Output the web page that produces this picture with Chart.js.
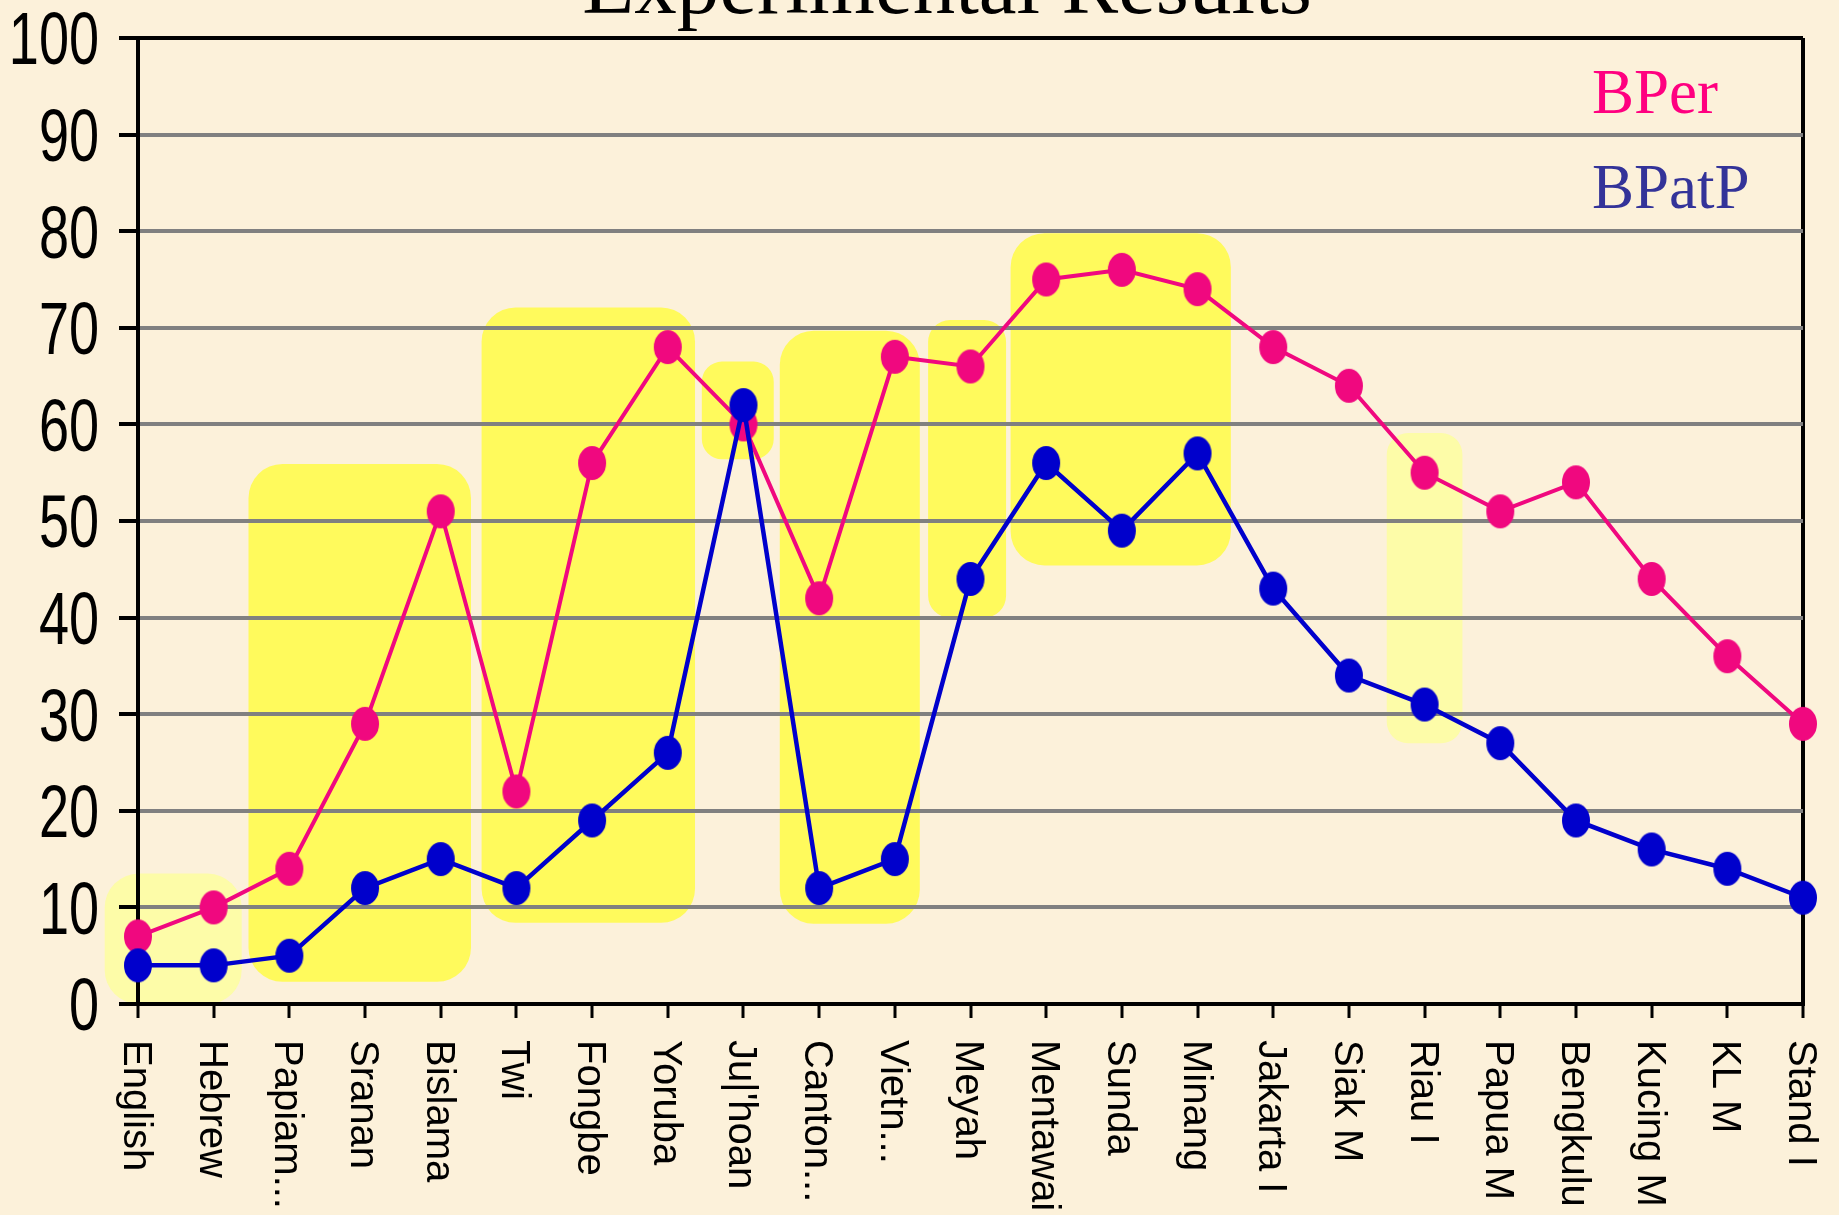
<!DOCTYPE html>
<html>
<head>
<meta charset="utf-8">
<title>Experimental Results</title>
<script src="https://cdn.jsdelivr.net/npm/chart.js@4.4.1/dist/chart.umd.min.js"></script>
<style>
  html, body { margin: 0; padding: 0; background: #FCF1DA; overflow: hidden; }
  canvas { display: block; }
</style>
</head>
<body>
<canvas id="chart" width="1839" height="1215"></canvas>
<script>
// ---- data ----
const languages = ['English', 'Hebrew', 'Papiam...', 'Sranan', 'Bislama', 'Twi', 'Fongbe', 'Yoruba',
  "Ju|'hoan", 'Canton...', 'Vietn...', 'Meyah', 'Mentawai', 'Sunda', 'Minang', 'Jakarta I',
  'Siak M', 'Riau I', 'Papua M', 'Bengkulu', 'Kucing M', 'KL M', 'Stand I'];
const bperValues  = [7, 10, 14, 29, 51, 22, 56, 68, 60, 42, 67, 66, 75, 76, 74, 68, 64, 55, 51, 54, 44, 36, 29];
const bpatpValues = [4, 4, 5, 12, 15, 12, 19, 26, 62, 12, 15, 44, 56, 49, 57, 43, 34, 31, 27, 19, 16, 14, 11];
const yTickValues = [0, 10, 20, 30, 40, 50, 60, 70, 80, 90, 100];
const seriesNames = ['BPer', 'BPatP'];

// highlighted groups: [from category, to category, low value, high value]
const groupSpans = [
  [-0.44, 1.37, 0, 13.5],
  [1.46, 4.40, 2.3, 55.9],
  [4.54, 7.36, 8.4, 72.1],
  [7.45, 8.40, 56.4, 66.5],
  [8.48, 10.33, 8.3, 69.7],
  [10.44, 11.47, 40.0, 70.8],
  [11.53, 14.44, 45.4, 79.8],
  [16.50, 17.50, 27.0, 59.1]
];
const groupTones = ['pale', 'bright', 'bright', 'bright', 'bright', 'bright', 'bright', 'pale'];

// ---- styling ----
const PINK = '#F0087F';
const BLUE = '#0000CC';
const PAPER = '#FCF1DA';
const TONE = { bright: '#FFFA5C', pale: '#FDFCA8' };

function ellipseMarker(color) {
  const c = document.createElement('canvas');
  c.width = 30; c.height = 36;
  const g = c.getContext('2d');
  g.fillStyle = color;
  g.beginPath();
  g.ellipse(15, 18, 14, 17, 0, 0, Math.PI * 2);
  g.fill();
  return c;
}

function roundRect(ctx, x, y, w, h, r) {
  r = Math.min(r, w / 2, h / 2);
  ctx.beginPath();
  ctx.moveTo(x + r, y);
  ctx.lineTo(x + w - r, y);
  ctx.arcTo(x + w, y, x + w, y + r, r);
  ctx.lineTo(x + w, y + h - r);
  ctx.arcTo(x + w, y + h, x + w - r, y + h, r);
  ctx.lineTo(x + r, y + h);
  ctx.arcTo(x, y + h, x, y + h - r, r);
  ctx.lineTo(x, y + r);
  ctx.arcTo(x, y, x + r, y, r);
  ctx.closePath();
}

// paper background, highlight panels and the title (behind the grid)
const backdrop = {
  id: 'backdrop',
  beforeDraw(chart) {
    const { ctx, width, height } = chart;
    const xs = chart.scales.x, ys = chart.scales.y;
    ctx.save();
    ctx.fillStyle = PAPER;
    ctx.fillRect(0, 0, width, height);

    groupSpans.forEach((s, i) => {
      const x0 = xs.getPixelForValue(s[0]);
      const x1 = xs.getPixelForValue(s[1]);
      const y0 = ys.getPixelForValue(s[3]);
      const y1 = ys.getPixelForValue(s[2]);
      const w = x1 - x0, h = y1 - y0;
      ctx.fillStyle = TONE[groupTones[i]];
      roundRect(ctx, x0, y0, w, h, Math.min(34, w * 0.28));
      ctx.fill();
    });

    ctx.fillStyle = '#000';
    ctx.font = '85px "Liberation Serif", "Times New Roman", serif';
    ctx.textAlign = 'center';
    ctx.textBaseline = 'alphabetic';
    ctx.fillText('Experimental Results', 947, 13);
    ctx.restore();
  }
};

// axis labels (narrow numerals, vertical category names) and the series key
const annotations = {
  id: 'annotations',
  afterDraw(chart) {
    const { ctx } = chart;
    const xs = chart.scales.x, ys = chart.scales.y;
    ctx.save();
    ctx.fillStyle = '#000';

    // value labels, condensed horizontally
    const numSize = 74;
    ctx.font = numSize + 'px "Liberation Sans", Arial, sans-serif';
    ctx.textAlign = 'right';
    ctx.textBaseline = 'alphabetic';
    ys.ticks.forEach((t) => {
      const y = ys.getPixelForValue(t.value);
      ctx.save();
      ctx.translate(ys.right - 39, y + numSize * 0.358);
      ctx.scale(0.73, 1);
      ctx.fillText(String(t.value), 0, 0);
      ctx.restore();
    });

    // category names, reading downward
    ctx.font = '40px "Liberation Sans", Arial, sans-serif';
    ctx.textAlign = 'left';
    ctx.textBaseline = 'middle';
    languages.forEach((name, i) => {
      const x = xs.getPixelForValue(i);
      ctx.save();
      ctx.translate(x - 3, xs.top + 36);
      ctx.rotate(Math.PI / 2);
      ctx.fillText(name, 0, 0);
      ctx.restore();
    });

    // series key
    ctx.font = '63px "Liberation Serif", "Times New Roman", serif';
    ctx.textBaseline = 'alphabetic';
    chart.data.datasets.forEach((ds) => {
      const row = seriesNames.indexOf(ds.label);
      ctx.fillStyle = ds.label === 'BPer' ? '#FF0080' : '#333399';
      ctx.fillText(ds.label, 1592, 113 + row * 95);
    });
    ctx.restore();
  }
};

const chart = new Chart(document.getElementById('chart'), {
  type: 'line',
  data: {
    labels: languages,
    datasets: [
      {
        label: seriesNames[0],
        data: bperValues,
        borderColor: PINK,
        borderWidth: 4,
        pointStyle: ellipseMarker(PINK),
        pointRadius: 15,
        tension: 0,
        clip: false,
        order: 1
      },
      {
        label: seriesNames[1],
        data: bpatpValues,
        borderColor: BLUE,
        borderWidth: 4.5,
        pointStyle: ellipseMarker(BLUE),
        pointRadius: 15,
        tension: 0,
        clip: false,
        order: 0
      }
    ]
  },
  options: {
    responsive: false,
    animation: false,
    devicePixelRatio: 1,
    layout: { padding: { top: 38, right: 36, left: 0, bottom: 0 } },
    plugins: {
      legend: { display: false },
      title: { display: false },
      tooltip: { enabled: false }
    },
    scales: {
      x: {
        type: 'category',
        offset: false,
        ticks: { display: false, autoSkip: false },
        grid: {
          color: (c) => (c.index === languages.length - 1 ? '#000' : 'rgba(0,0,0,0)'),
          lineWidth: 4,
          drawTicks: true,
          tickLength: 14,
          tickColor: '#000',
          tickWidth: 3
        },
        border: { color: '#000', width: 4 },
        afterFit: (s) => { s.height = 211; }
      },
      y: {
        min: 0,
        max: 100,
        afterBuildTicks: (s) => { s.ticks = yTickValues.map((v) => ({ value: v })); },
        ticks: { display: false },
        grid: {
          color: (c) => (c.tick && c.tick.value === 100 ? '#000' : '#808080'),
          lineWidth: 4,
          drawTicks: true,
          tickLength: 19,
          tickColor: '#000',
          tickWidth: 4
        },
        border: { color: '#000', width: 4 },
        afterFit: (s) => { s.width = 138; }
      }
    }
  },
  plugins: [backdrop, annotations]
});
</script>
</body>
</html>
